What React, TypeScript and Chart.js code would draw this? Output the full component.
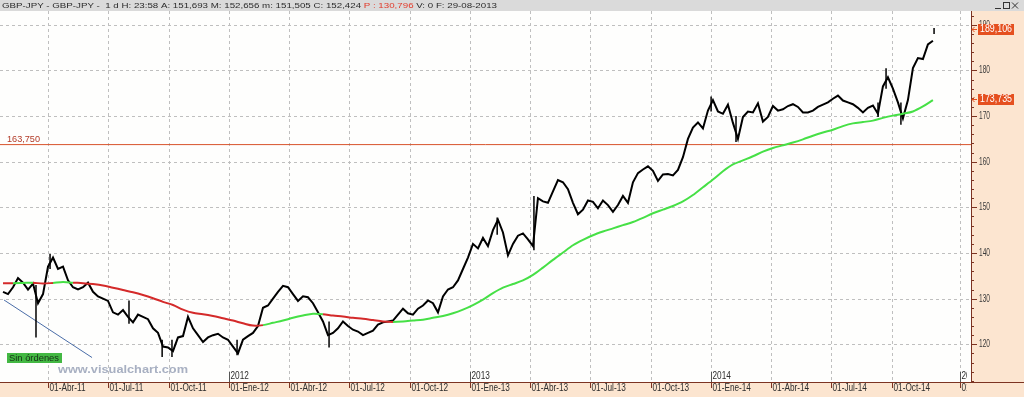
import { useEffect, useRef } from 'react';
import { Chart, registerables } from 'chart.js';
Chart.register(...registerables);

const CANVAS_W = 1024;
const CANVAS_H = 397;

// x axis unit: months since 1 Jan 2011
const xMinMonth = 0.608;
const xMaxMonth = 48.949;
const yMinValue = 111.74;
const yMaxValue = 193.02;

const priceStartMonth = 0.758;
const priceStepMonth = 0.2489;
const priceClose = [
  131.5, 131, 132.5, 134.5, 133.5, 132, 133.3, 129, 131, 137,
  139, 136.5, 137, 134, 132.5, 132, 132.5, 133.5, 131.5, 130.5,
  130, 129.5, 127, 126.5, 127.5, 126, 124.8, 126.5, 126, 125.5,
  123.5, 122.5, 119.5, 119.3, 118.5, 121.5, 121.8, 126, 123.5, 122,
  120.5, 121.5, 122, 122.3, 121.5, 121, 119.5, 118, 121, 121.8,
  122.5, 124, 128, 128.5, 130, 131.5, 132.8, 132.5, 131, 129.5,
  130.5, 130.3, 129, 127, 125, 122, 122.5, 123.5, 125, 124,
  123.2, 122.8, 122, 122.5, 123, 124.3, 124.8, 125, 125.2, 126.5,
  127.8, 126.8, 126.5, 127.8, 128.5, 129.6, 129, 127, 130.5, 132,
  132.5, 134, 136.5, 139, 142, 141, 143.3, 141.5, 145, 147.3,
  144.5, 139.5, 142, 143.8, 144.3, 143, 141.5, 152, 151.3, 151,
  153.5, 156, 155.5, 154, 151, 148.5, 149.5, 151.5, 151.2, 149.8,
  151.5, 150.5, 149, 150.5, 152.5, 151, 155.5, 157.5, 158.3, 159,
  158, 155.8, 157.2, 157.3, 157, 158.2, 161, 165, 167.5, 168.6,
  167.3, 171.2, 173.5, 171, 170.5, 172.5, 168.5, 165, 169.8, 171,
  170.8, 172.8, 168.8, 169.8, 172.2, 171.2, 171.5, 172.2, 172.6, 172,
  170.8, 170.8, 171.2, 172, 172.5, 173, 173.8, 174.5, 173.4, 173,
  172.6, 171.8, 170.8, 171.8, 172.3, 170.5, 176.5, 178.5, 176, 173,
  169.5, 173.5, 180.5, 182.7, 182.5, 185.7, 186.5,
];

const maStartMonth = 0.758;
const maStepMonth = 0.4978;
const movingAverage = [
  133.4, 133.4, 133.45, 133.5, 133.3, 133.45, 133.65, 133.5, 133.4, 133.2,
  132.9, 132.4, 131.9, 131.4, 130.8, 130.1, 129.3, 128.6, 127.6, 126.9,
  126.6, 126.2, 125.7, 125.2, 124.6, 124.1, 124.2, 124.7, 125.2, 125.8,
  126.3, 126.7, 126.6, 126.3, 126.1, 125.8, 125.6, 125.3, 125.0, 124.9,
  125.0, 125.2, 125.4, 125.8, 126.2, 126.8, 127.6, 128.6, 129.8, 131.2,
  132.4, 133.2, 134.0, 135.2, 136.8, 138.5, 140.1, 141.7, 142.9, 143.9,
  144.7, 145.4, 146.1, 146.8, 147.7, 148.7, 149.5, 150.3, 151.3, 152.7,
  154.4, 156.1, 157.9, 159.4, 160.3, 161.2, 162.2, 163.0, 163.6, 164.2,
  164.9, 165.7, 166.4, 167.0, 167.8, 168.4, 168.7, 169.0, 169.6, 170.1,
  170.5, 171.0, 172.1, 173.5,
];
// stretches where the average is drawn green (price above it)
const maGreenRanges = [
  [1.26, 2.25],
  [2.85, 3.94],
  [13.46, 16.44],
  [20.18, 49],
];

// single-day wicks (high-low) that stick out of the close line
const wickMonths = [2.40, 3.10, 7.03, 8.68, 9.17, 12.41, 16.99, 25.36, 27.19, 36.01, 37.25, 44.32, 44.72, 45.46, 47.11];
const wickLow = [121.5, 136.5, 124.5, 117.2, 117.2, 117.6, 119.3, 144, 140.6, 171, 164.3, 169.8, 176, 168.1, 188];
const wickHigh = [133, 139.8, 129.6, 121, 121, 121, 125, 147.8, 152.5, 174.3, 170, 173, 180.5, 173, 189.3];

const trendMonths = [0.81, 5.19];
const trendValues = [129.7, 117.1];

const supportLevel = 163.75;
const supportLabel = '163,750';
const lastClose = 189.106;
const lastCloseLabel = '189,106';
const lastAverage = 173.735;
const lastAverageLabel = '173,735';

const quarterMonths = [3, 6, 9, 12, 15, 18, 21, 24, 27, 30, 33, 36, 39, 42, 45, 48.38];
const quarterLabels = [
  '01-Abr-11', '01-Jul-11', '01-Oct-11', '01-Ene-12', '01-Abr-12', '01-Jul-12', '01-Oct-12',
  '01-Ene-13', '01-Abr-13', '01-Jul-13', '01-Oct-13', '01-Ene-14', '01-Abr-14', '01-Jul-14',
  '01-Oct-14', '01-Ene-15',
];
const yearMonths = [12, 24, 36, 48.38];
const yearLabels = ['2012', '2013', '2014', '2015'];

const yLabelValues = [120, 130, 140, 150, 160, 170, 180, 190];
const yMinorStep = 2;

const headerParts = [
  { text: 'GBP-JPY - GBP-JPY -  1 d H: 23:58 A: 151,693 M: 152,656 m: 151,505 C: 152,424 ', color: '#2b2b2b' },
  { text: 'P : 130,796', color: '#e23a2a' },
  { text: ' V: 0 F: 29-08-2013', color: '#2b2b2b' },
];
const watermark = 'www.visualchart.com';
const orderTag = 'Sin órdenes';

const FONT = '"Liberation Sans", Arial, sans-serif';

function squeezed(ctx: CanvasRenderingContext2D, text: string, x: number, y: number, sx: number) {
  ctx.save();
  ctx.translate(x, y);
  ctx.scale(sx, 1);
  ctx.fillText(text, 0, 0);
  ctx.restore();
}

function fitFactor(ctx: CanvasRenderingContext2D, text: string, target: number) {
  return target / ctx.measureText(text).width;
}

const decorPlugin = {
  id: 'decor',
  beforeDraw(chart: any) {
    const { ctx, chartArea: ca, scales } = chart;
    const xs = scales.x;
    const ys = scales.y;
    ctx.save();
    ctx.fillStyle = '#fce5d0';
    ctx.fillRect(0, 0, CANVAS_W, CANVAS_H);
    ctx.fillStyle = '#fefefd';
    ctx.fillRect(0, ca.top, ca.right, ca.bottom - ca.top);
    ctx.fillStyle = '#dadada';
    ctx.fillRect(0, 0, CANVAS_W, ca.top);

    ctx.strokeStyle = '#bfbfbf';
    ctx.lineWidth = 1;
    ctx.setLineDash([3, 3]);
    for (const v of yLabelValues) {
      const y = Math.round(ys.getPixelForValue(v)) + 0.5;
      ctx.beginPath();
      ctx.moveTo(ca.left, y);
      ctx.lineTo(ca.right, y);
      ctx.stroke();
    }
    for (const m of quarterMonths) {
      const x = Math.round(xs.getPixelForValue(m)) + 0.5;
      ctx.beginPath();
      ctx.moveTo(x, ca.top);
      ctx.lineTo(x, ca.bottom);
      ctx.stroke();
    }
    ctx.restore();
  },
  afterDraw(chart: any) {
    const { ctx, chartArea: ca, scales } = chart;
    const xs = scales.x;
    const ys = scales.y;
    ctx.save();
    ctx.setLineDash([]);
    ctx.textBaseline = 'middle';
    ctx.textAlign = 'left';

    // axis lines
    ctx.strokeStyle = '#7c3322';
    ctx.lineWidth = 1;
    ctx.beginPath();
    ctx.moveTo(ca.right + 0.5, ca.top);
    ctx.lineTo(ca.right + 0.5, ca.bottom);
    ctx.moveTo(0, ca.bottom + 0.5);
    ctx.lineTo(CANVAS_W, ca.bottom + 0.5);
    ctx.stroke();

    // y ticks and labels
    ctx.font = `10px ${FONT}`;
    const ysx = fitFactor(ctx, '180', 11);
    for (let v = Math.ceil(yMinValue / yMinorStep) * yMinorStep; v <= yMaxValue; v += yMinorStep) {
      const y = Math.round(ys.getPixelForValue(v)) + 0.5;
      const major = v % 10 === 0;
      ctx.beginPath();
      ctx.moveTo(ca.right, y);
      ctx.lineTo(ca.right + (major ? 6 : 3), y);
      ctx.stroke();
      if (major) {
        ctx.fillStyle = '#3a3a3a';
        squeezed(ctx, String(v), ca.right + 8, y, ysx);
      }
    }

    // x ticks and labels (clipped by the right panel)
    ctx.save();
    ctx.beginPath();
    ctx.rect(0, ca.top, 967, CANVAS_H);
    ctx.clip();
    ctx.font = `10px ${FONT}`;
    const xsx = fitFactor(ctx, '01-Abr-11', 36);
    ctx.fillStyle = '#2e2e2e';
    quarterMonths.forEach((m, i) => {
      const x = Math.round(xs.getPixelForValue(m)) + 0.5;
      ctx.beginPath();
      ctx.moveTo(x, ca.bottom);
      ctx.lineTo(x, ca.bottom + 6);
      ctx.stroke();
      squeezed(ctx, quarterLabels[i], x + 1, ca.bottom + 6.5, xsx);
    });
    yearMonths.forEach((m, i) => {
      const x = Math.round(xs.getPixelForValue(m)) + 0.5;
      ctx.strokeStyle = '#555';
      ctx.beginPath();
      ctx.moveTo(x, ca.bottom - 10);
      ctx.lineTo(x, ca.bottom);
      ctx.stroke();
      ctx.fillStyle = '#2e2e2e';
      squeezed(ctx, yearLabels[i], x + 1, ca.bottom - 6, xsx);
    });
    ctx.restore();

    // header text
    ctx.font = `8px ${FONT}`;
    const full = headerParts.map((p) => p.text).join('');
    const hsx = fitFactor(ctx, full, 495);
    let cx = 2;
    for (const p of headerParts) {
      ctx.fillStyle = p.color;
      squeezed(ctx, p.text, cx, 5.5, hsx);
      cx += ctx.measureText(p.text).width * hsx;
    }

    // window controls
    ctx.strokeStyle = '#333';
    ctx.lineWidth = 1;
    ctx.beginPath();
    ctx.moveTo(995, 8.5);
    ctx.lineTo(1001, 8.5);
    ctx.stroke();
    ctx.strokeRect(1003.5, 2.5, 6, 6);
    ctx.beginPath();
    ctx.moveTo(1012, 2.5);
    ctx.lineTo(1018, 8.5);
    ctx.moveTo(1018, 2.5);
    ctx.lineTo(1012, 8.5);
    ctx.stroke();

    // value boxes on the right axis
    ctx.font = `10px ${FONT}`;
    const boxes = [
      { v: lastClose, t: lastCloseLabel },
      { v: lastAverage, t: lastAverageLabel },
    ];
    for (const b of boxes) {
      const y = Math.round(ys.getPixelForValue(b.v));
      ctx.fillStyle = '#e5501f';
      ctx.fillRect(978, y - 5, 36, 11);
      ctx.fillStyle = '#ffffff';
      squeezed(ctx, b.t, 980, y + 0.5, fitFactor(ctx, b.t, 32));
      ctx.strokeStyle = '#e5501f';
      ctx.beginPath();
      ctx.moveTo(972, y + 0.5);
      ctx.lineTo(977, y + 0.5);
      ctx.moveTo(972, y + 0.5);
      ctx.lineTo(974.5, y - 2);
      ctx.moveTo(972, y + 0.5);
      ctx.lineTo(974.5, y + 3);
      ctx.stroke();
    }

    // support label
    ctx.font = `9px ${FONT}`;
    ctx.fillStyle = '#b23b28';
    const sy = ys.getPixelForValue(supportLevel);
    squeezed(ctx, supportLabel, 7, sy - 5, fitFactor(ctx, supportLabel, 33));

    // watermark
    ctx.font = `bold 11px ${FONT}`;
    ctx.fillStyle = '#a8b0c2';
    squeezed(ctx, watermark, 58, 370, fitFactor(ctx, watermark, 130));

    // order tag
    ctx.fillStyle = '#43b843';
    ctx.fillRect(7, 353, 55, 10);
    ctx.font = `9px ${FONT}`;
    ctx.fillStyle = '#163016';
    squeezed(ctx, orderTag, 9, 358.5, fitFactor(ctx, orderTag, 50));

    ctx.restore();
  },
};

export default function App() {
  const canvasRef = useRef<HTMLCanvasElement | null>(null);

  useEffect(() => {
    document.body.style.margin = '0';
    const canvas = canvasRef.current;
    if (!canvas) return;

    const pricePoints = priceClose.map((v, i) => ({ x: priceStartMonth + i * priceStepMonth, y: v }));
    const maPoints = movingAverage.map((v, i) => ({ x: maStartMonth + i * maStepMonth, y: v }));
    const wickPoints: { x: number; y: number | null }[] = [];
    wickMonths.forEach((m, i) => {
      wickPoints.push({ x: m, y: wickLow[i] });
      wickPoints.push({ x: m, y: wickHigh[i] });
      wickPoints.push({ x: m, y: null });
    });
    const isGreen = (m: number) => maGreenRanges.some(([a, b]) => m >= a - 0.01 && m < b);

    const chart = new Chart(canvas, {
      type: 'line',
      data: {
        datasets: [
          {
            label: 'Media',
            data: maPoints,
            borderWidth: 2,
            borderColor: '#d42a2a',
            pointRadius: 0,
            tension: 0.3,
            segment: {
              borderColor: (c: any) => (isGreen(c.p0.parsed.x) ? '#46e046' : '#d42a2a'),
            },
          },
          {
            label: 'GBP-JPY',
            data: pricePoints,
            borderWidth: 2,
            borderColor: '#000000',
            pointRadius: 0,
            tension: 0,
          },
          {
            label: 'wicks',
            data: wickPoints as any,
            borderWidth: 1.5,
            borderColor: '#000000',
            pointRadius: 0,
            spanGaps: false,
          },
          {
            label: 'support',
            data: [
              { x: xMinMonth, y: supportLevel },
              { x: xMaxMonth, y: supportLevel },
            ],
            borderWidth: 1,
            borderColor: '#d8532c',
            pointRadius: 0,
          },
          {
            label: 'trend',
            data: trendMonths.map((m, i) => ({ x: m, y: trendValues[i] })),
            borderWidth: 1,
            borderColor: '#4a6da8',
            pointRadius: 0,
          },
        ],
      },
      options: {
        animation: false,
        responsive: false,
        devicePixelRatio: 1,
        events: [],
        layout: { padding: { left: 0, right: 53, top: 11, bottom: 15 } },
        plugins: { legend: { display: false }, tooltip: { enabled: false } },
        scales: {
          x: { type: 'linear', min: xMinMonth, max: xMaxMonth, display: false },
          y: { type: 'linear', min: yMinValue, max: yMaxValue, display: false },
        },
      },
      plugins: [decorPlugin],
    });
    return () => chart.destroy();
  }, []);

  return (
    <div style={{ width: CANVAS_W, height: CANVAS_H }}>
      <canvas ref={canvasRef} width={CANVAS_W} height={CANVAS_H} style={{ display: 'block' }} />
    </div>
  );
}
